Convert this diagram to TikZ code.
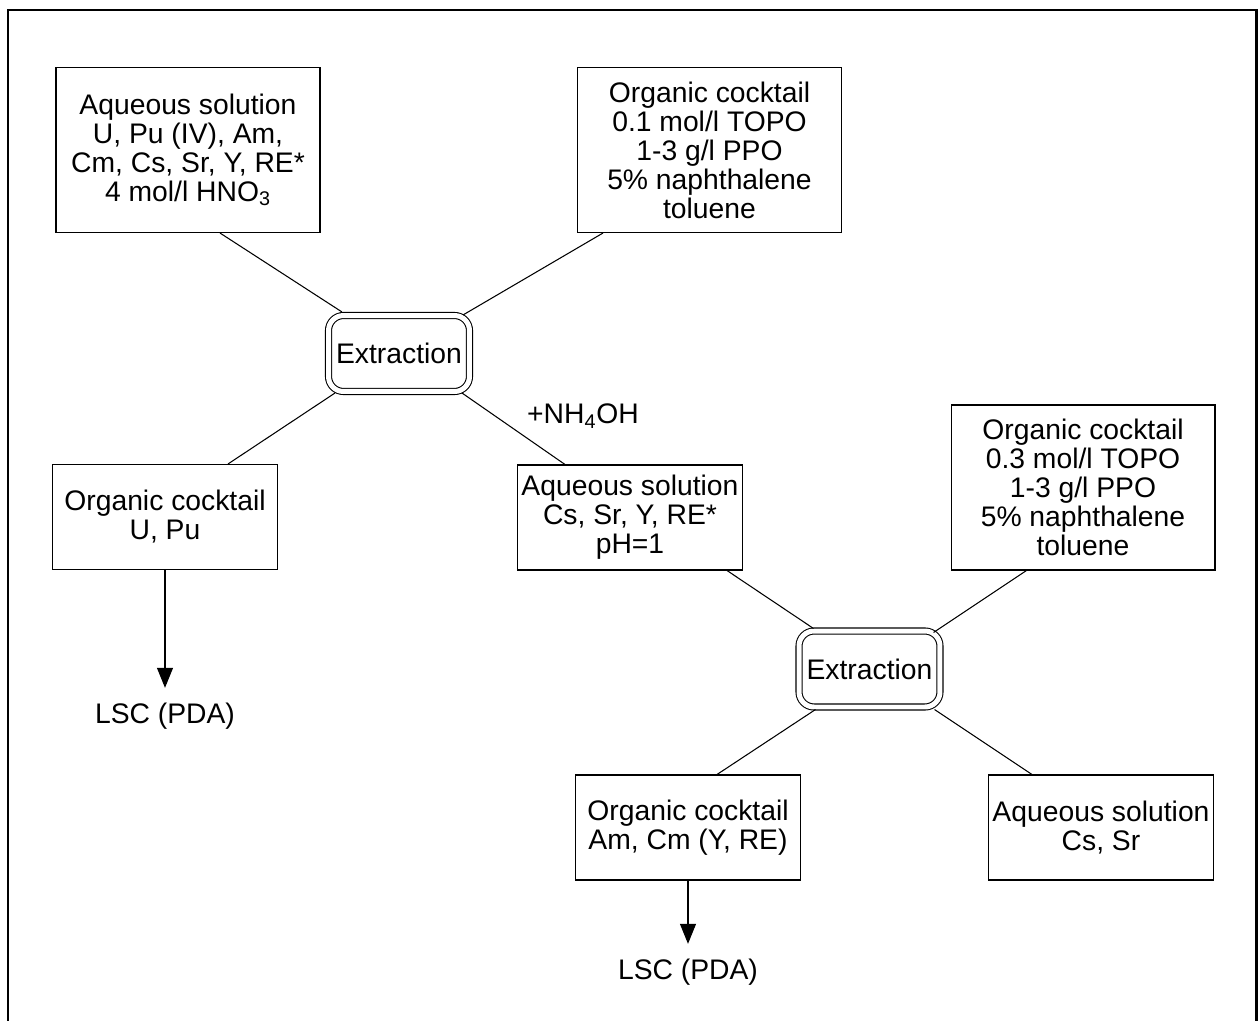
\documentclass[tikz,border=0pt]{standalone}
\usepackage{fontspec}
\setmainfont{Liberation Sans}
\usetikzlibrary{arrows.meta, calc}

\begin{document}
\begin{tikzpicture}
[	
						x=0.02cm, y=-0.02cm, line width=0.6pt,
						font=\fontsize{16.1}{16.5}\selectfont,
						square/.style = {draw, rectangle, align=center, inner sep=0pt, minimum width=4.5cm, minimum height=2.1cm},
						tsquare/.style = {square, minimum width=5.28cm, minimum height=3.3cm},
						round/.style = {draw, double, double distance=0.1cm, rounded corners=0.3cm, minimum width=2.82cm, minimum height=1.52cm, inner sep=0pt, outer sep=0.071cm},
						result/.style = {inner sep=0pt, outer sep=0.3cm},
						tip/.style = {-{Triangle[length=0.4cm, width=0.32cm]}}
					]
\useasboundingbox (0,0) rectangle (1258,1021);
\draw[line width=0.06cm] (8,1021) -- (8,10) -- (1256,10) -- (1256,1021);
\node[tsquare] (1) at (188,150) {Aqueous solution\\U, Pu (IV), Am,\\Cm, Cs, Sr, Y, RE*\\4 mol/l HNO\textsubscript{3}};
\node[tsquare] (2) at (709.5,150) {Organic cocktail\\0.1 mol/l TOPO\\1-3 g/l PPO\\5\% naphthalene\\toluene};
\node[round] (3) at (399,353.5) {Extraction};
\node[square] (4) at (165,517) {Organic cocktail\\U, Pu};
\node[square] (5) at (630,517.5) {Aqueous solution\\Cs, Sr, Y, RE*\\pH=1};
\node (6) at (583,416) {+NH\textsubscript{4}OH};
\node[tsquare] (7) at (1083,487.5) {Organic cocktail\\0.3 mol/l TOPO\\1-3 g/l PPO\\5\% naphthalene\\toluene};
\node[round] (8) at (869.5,669) {Extraction};
\node[square] (9) at (688,827.5) {Organic cocktail\\Am, Cm (Y, RE)};
\node[square] (10) at (1101,827.5) {Aqueous solution\\Cs, Sr};
\node[result] (11) at (165,716) {LSC (PDA)};
\node[result] (12) at (688,972) {LSC (PDA)};
\draw ($(1.south)+(32,0)$) -- ($(3.north west)+(17,0)$);
\draw ($(2.south west)+(26,0)$) -- ($(3.north east)+(-10,3)$);
\draw ($(3.south west)+(10,-2)$) -- ($(4.north)+(63,0)$);
\draw ($(3.south east)+(-11,-2)$) -- ($(5.north)+(-65,0)$);
\draw ($(5.south east)+(-16,0)$) -- ($(8.north west)+(18,1)$);
\draw ($(7.south west)+(76,0)$) -- ($(8.north east)+(-10,5)$);
\draw ($(8.south west)+(20,-1)$) -- ($(9.north)+(29,0)$);
\draw ($(8.south east)+(-9,-1)$) -- ($(10.north)+(-69,0)$);
\draw[tip] (4.south) -- (4.south |- 11.north);
\draw[tip] (9.south) -- (9.south |- 12.north);
\end{tikzpicture}
\end{document}
